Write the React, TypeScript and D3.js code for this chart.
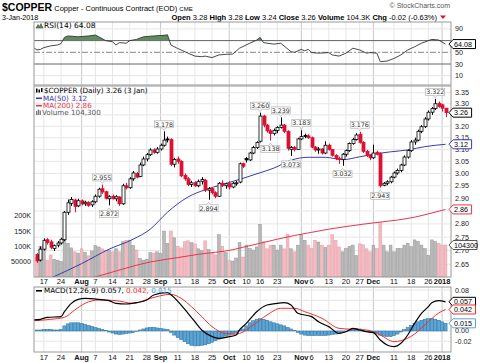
import * as d3 from "d3";
import * as React from "react";

const SANS = "'Liberation Sans', Arial, sans-serif";
const VER = "'DejaVu Sans', Verdana, sans-serif";
const RED = "#dd1133";
const BLUE = "#3a3ab0";
const PINK = "#e8344c";

// trading days, 13 Jul 2017 .. 3 Jan 2018
const days = [
  "07-13", "07-14", "07-17", "07-18", "07-19", "07-20", "07-21", "07-24", "07-25", "07-26", "07-27", "07-28", "07-31",
  "08-01", "08-02", "08-03", "08-04", "08-07", "08-08", "08-09", "08-10", "08-11", "08-14", "08-15", "08-16", "08-17", "08-18", "08-21", "08-22", "08-23", "08-24", "08-25", "08-28", "08-29", "08-30", "08-31",
  "09-01", "09-05", "09-06", "09-07", "09-08", "09-11", "09-12", "09-13", "09-14", "09-15", "09-18", "09-19", "09-20", "09-21", "09-22", "09-25", "09-26", "09-27", "09-28", "09-29",
  "10-02", "10-03", "10-04", "10-05", "10-06", "10-10", "10-11", "10-12", "10-13", "10-16", "10-17", "10-18", "10-19", "10-20", "10-23", "10-24", "10-25", "10-26", "10-27", "10-30", "10-31",
  "11-01", "11-02", "11-03", "11-06", "11-07", "11-08", "11-09", "11-10", "11-13", "11-14", "11-15", "11-16", "11-17", "11-20", "11-21", "11-22", "11-24", "11-27", "11-28", "11-29", "11-30",
  "12-01", "12-04", "12-05", "12-06", "12-07", "12-08", "12-11", "12-12", "12-13", "12-14", "12-15", "12-18", "12-19", "12-20", "12-21", "12-22", "12-26", "12-27", "12-28", "12-29",
  "01-02", "01-03",
];

const prevClose = 2.69;

// open, high, low, close
const candles: [number, number, number, number][] = [
  [2.685, 2.69, 2.655, 2.662], [2.665, 2.715, 2.66, 2.705], [2.705, 2.745, 2.7, 2.738], [2.74, 2.746, 2.722, 2.73],
  [2.732, 2.74, 2.705, 2.712], [2.708, 2.722, 2.698, 2.718], [2.72, 2.735, 2.712, 2.728], [2.728, 2.748, 2.722, 2.742],
  [2.74, 2.85, 2.735, 2.845], [2.845, 2.895, 2.835, 2.882], [2.88, 2.905, 2.87, 2.895], [2.893, 2.898, 2.845, 2.868],
  [2.87, 2.898, 2.865, 2.89], [2.89, 2.895, 2.872, 2.878], [2.878, 2.89, 2.87, 2.884], [2.884, 2.888, 2.866, 2.872],
  [2.874, 2.892, 2.866, 2.886], [2.886, 2.915, 2.88, 2.908], [2.908, 2.942, 2.902, 2.936], [2.938, 2.955, 2.918, 2.925],
  [2.926, 2.93, 2.895, 2.9], [2.898, 2.912, 2.872, 2.906], [2.908, 2.915, 2.895, 2.898], [2.898, 2.912, 2.888, 2.906],
  [2.905, 2.908, 2.87, 2.878], [2.878, 2.958, 2.874, 2.95], [2.95, 2.962, 2.935, 2.942], [2.942, 2.985, 2.938, 2.978],
  [2.978, 3.01, 2.97, 3.002], [3.0, 3.005, 2.98, 2.985], [2.988, 3.045, 2.985, 3.035], [3.035, 3.07, 3.03, 3.06],
  [3.06, 3.085, 3.05, 3.078], [3.078, 3.105, 3.072, 3.098], [3.098, 3.105, 3.082, 3.088], [3.088, 3.11, 3.082, 3.102],
  [3.102, 3.125, 3.095, 3.118], [3.118, 3.178, 3.112, 3.14], [3.145, 3.155, 3.13, 3.142], [3.142, 3.148, 3.03, 3.038],
  [3.038, 3.065, 3.025, 3.058], [3.06, 3.07, 3.04, 3.05], [3.05, 3.055, 2.985, 2.99], [2.992, 3.0, 2.97, 2.978],
  [2.978, 2.985, 2.948, 2.955], [2.955, 2.97, 2.945, 2.962], [2.962, 2.968, 2.945, 2.95], [2.95, 2.975, 2.944, 2.968],
  [2.968, 2.985, 2.955, 2.975], [2.972, 2.978, 2.925, 2.932], [2.932, 2.945, 2.894, 2.938], [2.938, 2.945, 2.915, 2.922],
  [2.922, 2.928, 2.9, 2.908], [2.908, 2.965, 2.905, 2.96], [2.96, 2.972, 2.945, 2.95], [2.95, 2.962, 2.938, 2.958],
  [2.958, 2.968, 2.935, 2.945], [2.945, 2.965, 2.94, 2.96], [2.96, 2.97, 2.95, 2.962], [2.965, 3.045, 2.96, 3.04],
  [3.04, 3.045, 3.022, 3.03], [3.062, 3.068, 3.045, 3.056], [3.056, 3.09, 3.052, 3.085], [3.085, 3.115, 3.08, 3.108],
  [3.108, 3.135, 3.102, 3.13], [3.135, 3.26, 3.13, 3.245], [3.245, 3.25, 3.195, 3.205], [3.205, 3.21, 3.172, 3.18],
  [3.18, 3.188, 3.138, 3.168], [3.168, 3.19, 3.16, 3.182], [3.182, 3.2, 3.17, 3.195], [3.195, 3.239, 3.19, 3.205],
  [3.205, 3.21, 3.17, 3.178], [3.178, 3.182, 3.095, 3.105], [3.1, 3.115, 3.073, 3.108], [3.108, 3.115, 3.092, 3.1],
  [3.1, 3.15, 3.098, 3.145], [3.145, 3.183, 3.14, 3.155], [3.16, 3.168, 3.148, 3.158], [3.158, 3.165, 3.145, 3.15],
  [3.15, 3.155, 3.105, 3.11], [3.11, 3.115, 3.09, 3.098], [3.098, 3.11, 3.082, 3.102], [3.102, 3.105, 3.078, 3.085],
  [3.085, 3.135, 3.08, 3.118], [3.118, 3.125, 3.095, 3.1], [3.1, 3.102, 3.07, 3.075], [3.075, 3.08, 3.055, 3.062],
  [3.062, 3.07, 3.04, 3.058], [3.058, 3.085, 3.032, 3.08], [3.08, 3.1, 3.07, 3.095], [3.095, 3.13, 3.09, 3.125],
  [3.125, 3.15, 3.12, 3.142], [3.142, 3.17, 3.138, 3.162], [3.165, 3.176, 3.125, 3.13], [3.13, 3.135, 3.085, 3.092],
  [3.092, 3.098, 3.068, 3.075], [3.075, 3.08, 3.055, 3.065], [3.065, 3.12, 3.06, 3.085], [3.088, 3.095, 3.075, 3.08],
  [3.082, 3.088, 2.943, 2.95], [2.952, 2.965, 2.948, 2.96], [2.96, 2.972, 2.952, 2.966], [2.966, 2.99, 2.96, 2.985],
  [2.985, 3.008, 2.98, 3.002], [3.002, 3.02, 2.995, 3.012], [3.012, 3.04, 3.005, 3.035], [3.035, 3.075, 3.03, 3.068],
  [3.068, 3.1, 3.062, 3.095], [3.095, 3.14, 3.09, 3.132], [3.132, 3.15, 3.12, 3.14], [3.14, 3.185, 3.135, 3.178],
  [3.178, 3.205, 3.17, 3.198], [3.198, 3.24, 3.192, 3.232], [3.232, 3.27, 3.225, 3.262], [3.262, 3.285, 3.25, 3.278],
  [3.278, 3.322, 3.272, 3.3], [3.302, 3.31, 3.282, 3.288], [3.295, 3.3, 3.265, 3.28], [3.28, 3.28, 3.24, 3.26],
];

// volume, thousands of contracts
const volumeK = [
  64, 100, 108, 55, 72, 58, 55, 50, 152, 110, 95, 82, 78,
  92, 80, 69, 85, 103, 98, 92, 86, 88, 82, 92, 82,
  115, 120, 120, 103, 88, 60, 55, 58, 80, 78, 82, 76,
  150, 110, 150, 128, 100, 95, 115, 118, 112, 108, 92, 86,
  118, 90, 78, 72, 138, 100, 80, 54, 52, 62, 112, 65,
  104, 93, 88, 98, 172, 115, 92, 104, 104, 88, 104, 92,
  140, 92, 82, 104, 138, 120, 104, 93, 120, 114, 104, 96,
  104, 138, 120, 98, 82, 93, 100, 104, 70, 108, 105, 92,
  82, 104, 93, 178, 104, 82, 104, 82, 93, 93, 104, 110, 99, 121, 116, 104, 93, 71, 121, 116, 110, 104, 104.3,
];

// [day index, value]
const ma50: [number, number][] = [
  [4, 2.6], [13, 2.652], [21, 2.705], [28, 2.742], [33, 2.78], [38, 2.845], [44, 2.905], [49, 2.934],
  [54, 2.955], [60, 2.98], [65, 3.003], [69, 3.022], [74, 3.055], [79, 3.067], [84, 3.067], [89, 3.057],
  [94, 3.069], [98, 3.08], [103, 3.09], [108, 3.098], [113, 3.112], [119, 3.122],
];
const ma200: [number, number][] = [
  [15, 2.598], [19, 2.611], [28, 2.643], [33, 2.658], [41, 2.674], [47, 2.686], [57, 2.703], [60, 2.712],
  [65, 2.727], [70, 2.742], [75, 2.756], [80, 2.768], [85, 2.78], [90, 2.79], [95, 2.799], [100, 2.807],
  [105, 2.815], [110, 2.826], [115, 2.842], [119, 2.856],
];
const rsi: [number, number][] = [
  [-1, 58], [0, 54], [1, 55], [2, 58], [4, 61], [6, 62.5], [7, 65], [8, 75.5], [9, 78], [12, 76.5], [15, 78],
  [17, 79.5], [18, 76.5], [20, 70], [22, 68], [23, 62.5], [24, 66.5], [26, 65.5], [27, 70], [29, 72], [31, 76.5],
  [34, 78], [37, 79], [38, 80], [39, 62.5], [41, 56.5], [42, 54], [44, 48.5], [46, 43.5], [48, 42.5], [49, 43.5],
  [51, 41], [53, 45.5], [55, 46.5], [57, 47], [59, 57], [62, 65.5], [64, 71], [65, 75.5], [66, 66.5], [69, 64],
  [71, 65.5], [74, 51], [75, 50], [77, 55], [78, 52.5], [79, 55], [80, 49.5], [82, 48.5], [85, 49.5], [86, 45.5],
  [88, 43.5], [90, 48.5], [92, 57], [94, 54], [96, 48.5], [97, 49.5], [99, 48.5], [100, 34], [102, 35], [104, 39.5],
  [106, 45.5], [108, 54], [110, 59.5], [112, 65.5], [114, 70], [115, 72], [117, 71], [119, 64.08],
];
const macd: [number, number][] = [
  [-1, 0.0215], [1, 0.0228], [3, 0.0267], [7, 0.028], [8, 0.0377], [10, 0.054], [12, 0.0618], [14, 0.0637],
  [18, 0.0618], [21, 0.0592], [23, 0.054], [26, 0.0527], [29, 0.0553], [32, 0.0605], [34, 0.0702], [38, 0.0748],
  [39, 0.071], [42, 0.0507], [44, 0.0345], [46, 0.0182], [48, 0.002], [51, -0.011], [53, -0.0143], [56, -0.011],
  [58, -0.0078], [59, 0.002], [61, 0.015], [64, 0.0377], [67, 0.0507], [70, 0.054], [72, 0.0553], [74, 0.0507],
  [76, 0.0345], [80, 0.028], [82, 0.0182], [85, 0.0085], [88, -0.0046], [90, -0.0013], [92, 0.0052], [94, 0.002],
  [96, -0.0013], [98, -0.0033], [100, -0.0176], [102, -0.0273], [104, -0.0306], [106, -0.024], [108, -0.0078],
  [110, 0.015], [112, 0.0345], [114, 0.0475], [115, 0.0553], [117, 0.0592], [119, 0.057],
];
const signal: [number, number][] = [
  [-1, 0.02], [4, 0.0228], [8, 0.0267], [11, 0.041], [14, 0.054], [18, 0.0605], [23, 0.0592], [28, 0.054],
  [33, 0.0637], [39, 0.0716], [42, 0.0637], [45, 0.0475], [48, 0.028], [51, 0.0085], [55, -0.005], [58, -0.006],
  [60, -0.002], [63, 0.0117], [67, 0.0312], [71, 0.0443], [75, 0.0443], [78, 0.0377], [83, 0.0248], [88, 0.0052],
  [92, 0.0033], [96, 0.002], [100, -0.0078], [104, -0.0208], [108, -0.014], [110, -0.006], [112, 0.006],
  [114, 0.018], [116, 0.03], [117, 0.035], [119, 0.042],
];
const hist = [
  0.002, 0.002, 0.003, 0.003, 0.003, 0.002, 0.002,
  0.003, 0.01, 0.014, 0.016, 0.016, 0.016, 0.015, 0.013, 0.011, 0.009, 0.007, 0.005, 0.003, 0.001,
  -0.002, -0.004, -0.006, -0.007, -0.006, -0.005, -0.004, -0.003, -0.001, 0.002, 0.004, 0.006, 0.007, 0.007, 0.006, 0.005, 0.004, 0.003,
  -0.003, -0.008, -0.013, -0.017, -0.021, -0.025, -0.028, -0.029, -0.029, -0.028, -0.027, -0.025, -0.022, -0.019, -0.016, -0.013, -0.01, -0.008, -0.006, -0.003, 0.001, 0.004,
  0.01, 0.016, 0.02, 0.023, 0.024, 0.023, 0.021, 0.018, 0.016, 0.014, 0.012, 0.01, 0.007, 0.004, 0.001, -0.003,
  -0.006, -0.008, -0.009, -0.009, -0.009, -0.009, -0.009, -0.009, -0.008, -0.007, -0.006, -0.005, -0.003, -0.001, 0.002,
  0.004, 0.005, 0.004, 0.002, 0.0, -0.002, -0.003, -0.004, -0.008, -0.01, -0.011, -0.011,
  -0.009, -0.006, -0.002, 0.003, 0.007, 0.011, 0.015, 0.018, 0.021, 0.023, 0.024, 0.024, 0.023, 0.021, 0.018, 0.015,
];

// labelled swing highs / lows: [day index, price, 1 = high / 0 = low]
const swings: [number, number, number][] = [
  [19, 2.955, 1], [21, 2.872, 0], [37, 3.178, 1], [50, 2.894, 0], [65, 3.26, 1], [68, 3.138, 0],
  [71, 3.239, 1], [74, 3.073, 0], [77, 3.183, 1], [89, 3.032, 0], [94, 3.176, 1], [100, 2.943, 0], [116, 3.322, 1],
];

const xTicks: [string, string, boolean][] = [
  ["07-17", "17", false], ["07-24", "24", false], ["08-01", "Aug", true], ["08-07", "7", false],
  ["08-14", "14", false], ["08-21", "21", false], ["08-28", "28", false], ["09-01", "Sep", true],
  ["09-11", "11", false], ["09-18", "18", false], ["09-25", "25", false], ["10-02", "Oct", true],
  ["10-10", "10", false], ["10-16", "16", false], ["10-23", "23", false], ["11-01", "Nov", true],
  ["11-06", "6", false], ["11-13", "13", false], ["11-20", "20", false], ["11-27", "27", false],
  ["12-01", "Dec", true], ["12-11", "11", false], ["12-18", "18", false], ["12-26", "26", false],
  ["01-02", "2018", true],
];
const priceTicks = [2.65, 2.7, 2.75, 2.8, 2.85, 2.9, 2.95, 3.0, 3.05, 3.1, 3.15, 3.2, 3.25, 3.3, 3.35];
const volTicks: [number, string][] = [[50, "50000"], [100, "100K"], [150, "150K"], [200, "200K"]];
const rsiTicks = [10, 30, 50, 70, 90];
const macdTicks = [-0.02, 0, 0.02, 0.04, 0.06, 0.08];

const L = 34, R = 451;
const RSI_T = 22, RSI_B = 85, MAIN_T = 86, MAIN_B = 277, MACD_T = 287, MACD_B = 352;

function Tag({ y, text, color, width }: { y: number; text: string; color: string; width?: number }) {
  const w = width || text.length * 3.9 + 3;
  const d = `M449,${y} L453,${y - 4.5} L${453 + w},${y - 4.5} L${453 + w},${y + 4.5} L453,${y + 4.5} Z`;
  return (
    <g>
      <path d={d} fill="#fff" stroke={color} strokeWidth={1} />
      <text x={454} y={y + 2.6} fontSize={7.2} fontFamily={SANS} fill="#000">
        {text}
      </text>
    </g>
  );
}

// hide a right-axis label that a value tag would cover
const hidden = (pos: number, tags: number[]) => tags.some((t) => Math.abs(t - pos) < 4.2);

export default function App() {
  const x = d3.scaleLinear().domain([-0.87, 120.6]).range([L, R]);
  const y = d3.scaleLog().domain([2.604, 3.381]).range([MAIN_B, MAIN_T]);
  const yv = d3.scaleLinear().domain([0, 200]).range([MAIN_B, 215.7]);
  const yr = d3.scaleLinear().domain([-5.9, 101.8]).range([RSI_B, RSI_T]);
  const ym = d3.scaleLinear().domain([-0.041, 0.0859]).range([MACD_B, MACD_T]);

  const idx = (d: string) => days.indexOf(d);
  const priceLine = d3.line<[number, number]>().x((d) => x(d[0])).y((d) => y(d[1])).curve(d3.curveMonotoneX);
  const rsiLine = d3.line<[number, number]>().x((d) => x(d[0])).y((d) => yr(d[1]));
  const rsiArea = d3.area<[number, number]>().x((d) => x(d[0])).y0(yr(70)).y1((d) => yr(d[1]));
  const macdLine = d3.line<[number, number]>().x((d) => x(d[0])).y((d) => ym(d[1])).curve(d3.curveMonotoneX);

  const up = (i: number) => candles[i][3] >= (i === 0 ? prevClose : candles[i - 1][3]);

  const rsiTags = [yr(64.08)];
  const mainTags = [y(3.26), y(3.122), y(2.856), yv(104.3)];
  const macdTags = [ym(0.057), ym(0.042), ym(0.015)];

  const vGrid = (y1: number, y2: number, k: string) =>
    xTicks.map(([d, , bold]) => (
      <line key={k + d} x1={x(idx(d))} x2={x(idx(d))} y1={y1} y2={y2} stroke={bold ? "#c8c8c8" : "#e6e6e6"} strokeWidth={1} />
    ));

  const xAxis = (ty: number) =>
    xTicks.map(([d, lab, bold]) => (
      <text key={d + ty} x={x(idx(d))} y={ty} textAnchor="middle" fontSize={7.5} fontFamily={SANS}
        fontWeight={bold ? "bold" : "normal"} fill="#111">
        {lab}
      </text>
    ));

  return (
    <svg width={480} height={363} style={{ position: "absolute", left: 0, top: 0, background: "#fff" }}>
      <defs>
        <clipPath id="cMain"><rect x={L} y={MAIN_T} width={R - L} height={MAIN_B - MAIN_T} /></clipPath>
        <clipPath id="cRsi"><rect x={L} y={RSI_T} width={R - L} height={RSI_B - RSI_T} /></clipPath>
        <clipPath id="cRsiHi"><rect x={L} y={RSI_T} width={R - L} height={yr(70) - RSI_T} /></clipPath>
        <clipPath id="cMacd"><rect x={L} y={MACD_T} width={R - L} height={MACD_B - MACD_T} /></clipPath>
      </defs>

      {/* header */}
      <text x={2} y={11} fontFamily={SANS} fill="#000">
        <tspan fontSize={10.5} fontWeight="bold">$COPPER</tspan>
        <tspan fontSize={7.5}>{" Copper - Continuous Contract (EOD) "}</tspan>
        <tspan fontSize={6}>CME</tspan>
      </text>
      <text x={450} y={7.5} textAnchor="end" fontSize={7} fontFamily={SANS} fill="#555">© StockCharts.com</text>
      <text x={2} y={19.5} fontSize={7.2} fontFamily={SANS} fill="#000">3-Jan-2018</text>
      <text x={437} y={19.5} textAnchor="end" fontSize={7.5} fontFamily={SANS} fill="#000">
        <tspan fontWeight="bold">Open</tspan>{" 3.28 "}
        <tspan fontWeight="bold">High</tspan>{" 3.28 "}
        <tspan fontWeight="bold">Low</tspan>{" 3.24 "}
        <tspan fontWeight="bold">Close</tspan>{" 3.26 "}
        <tspan fontWeight="bold">Volume</tspan>{" 104.3K "}
        <tspan fontWeight="bold">Chg</tspan>{" -0.02 (-0.63%)"}
      </text>
      <path d="M440,15.5 L446,15.5 L443,19 Z" fill={RED} />

      {/* RSI panel */}
      <g>
        {vGrid(RSI_T, RSI_B, "r")}
        {[90, 10].map((t) => (
          <line key={t} x1={L} x2={R} y1={yr(t)} y2={yr(t)} stroke="#e6e6e6" />
        ))}
        <g clipPath="url(#cRsi)">
          <path d={rsiArea(rsi) || ""} fill="#5e8e5e" clipPath="url(#cRsiHi)" />
        </g>
        <line x1={L} x2={R} y1={yr(70)} y2={yr(70)} stroke="#666" />
        <line x1={L} x2={R} y1={yr(30)} y2={yr(30)} stroke="#666" />
        <line x1={L} x2={R} y1={yr(50)} y2={yr(50)} stroke="#888" strokeDasharray="6,2,2,2" />
        <g clipPath="url(#cRsi)">
          <path d={rsiLine(rsi) || ""} fill="none" stroke="#333" strokeWidth={0.9} />
        </g>
        <rect x={L} y={RSI_T} width={R - L} height={RSI_B - RSI_T} fill="none" stroke="#999" />
        {rsiTicks.filter((t) => !hidden(yr(t), rsiTags)).map((t) => (
          <text key={t} x={455} y={yr(t) + 2.5} fontSize={7.2} fontFamily={SANS} fill="#222">{t}</text>
        ))}
        <path d="M36,28 L38,24.5 L39.5,26.5 L41,23.5 L43,28 Z" fill="#5e8e5e" stroke="#333" strokeWidth={0.5} />
        <text x={44} y={27.8} fontSize={7.5} fontFamily={VER} fill="#000">RSI(14) 64.08</text>
        <Tag y={yr(64.08)} text="64.08" color="#000" />
      </g>

      {/* price + volume panel */}
      <g>
        {vGrid(MAIN_T, MAIN_B, "m")}
        {priceTicks.map((t) => (
          <line key={t} x1={L} x2={R} y1={y(t)} y2={y(t)} stroke="#e6e6e6" />
        ))}
        <g clipPath="url(#cMain)">
          {volumeK.map((v, i) => (
            <rect key={i} x={x(i) - 1.4} width={2.8} y={yv(v)} height={MAIN_B - yv(v)}
              fill={up(i) ? "#b9b9b9" : "#f3bcc2"} stroke={up(i) ? "#969696" : "#e39aa4"} strokeWidth={0.5} />
          ))}
          <path d={priceLine(ma200) || ""} fill="none" stroke={PINK} strokeWidth={1} />
          <path d={priceLine(ma50) || ""} fill="none" stroke={BLUE} strokeWidth={1} />
          {candles.map(([o, h, l, c], i) => {
            const col = up(i) ? "#000" : RED;
            const hollow = c > o;
            const top = y(Math.max(o, c));
            const bh = Math.max(1, Math.abs(y(o) - y(c)));
            const cx = Math.round(x(i)) + 0.5;
            return (
              <g key={i}>
                <line x1={cx} x2={cx} y1={y(h)} y2={y(l)} stroke={col} strokeWidth={1} />
                <rect x={cx - 1.5} width={3} y={top} height={bh}
                  fill={hollow ? "#fff" : col} stroke={col} strokeWidth={0.8} />
              </g>
            );
          })}
        </g>
        {swings.map(([i, v, hi]) => {
          const cx = x(i);
          const cy = hi ? y(v) - 7 : y(v) + 8.5;
          const tip = hi ? cy + 6 : cy - 6;
          const base = hi ? cy + 3.5 : cy - 3.5;
          return (
            <g key={i}>
              <rect x={cx - 9.5} y={cy - 3.5} width={19} height={7} fill="#fafafa" stroke="#aaa" strokeWidth={0.6} />
              <path d={`M${cx - 2},${base} L${cx},${tip} L${cx + 2},${base}`} fill="#fafafa" stroke="#aaa" strokeWidth={0.6} />
              <text x={cx} y={cy + 2.3} textAnchor="middle" fontSize={6.3} fontFamily={VER} fill="#333">
                {v.toFixed(3)}
              </text>
            </g>
          );
        })}
        <rect x={L} y={MAIN_T} width={R - L} height={MAIN_B - MAIN_T} fill="none" stroke="#999" />
        {priceTicks.filter((t) => !hidden(y(t), mainTags)).map((t) => (
          <text key={t} x={455} y={y(t) + 2.5} fontSize={7.2} fontFamily={SANS} fill="#222">{t.toFixed(2)}</text>
        ))}
        {volTicks.map(([v, lab]) => (
          <text key={lab} x={31} y={yv(v) + 2.5} textAnchor="end" fontSize={7.2} fontFamily={SANS} fill="#222">{lab}</text>
        ))}
        {/* legend */}
        <g fontFamily={VER} fontSize={7.2}>
          <rect x={36} y={88.5} width={1.5} height={4} fill="#000" />
          <rect x={38.5} y={89.5} width={1.5} height={3} fill="#000" />
          <rect x={41} y={88} width={1.5} height={4} fill="#000" />
          <text x={44} y={93.2} fill="#000">$COPPER (Daily) 3.26 (3 Jan)</text>
          <line x1={36} x2={42} y1={98.3} y2={98.3} stroke={BLUE} strokeWidth={1.6} />
          <text x={43} y={100.8} fill={BLUE}>MA(50) 3.12</text>
          <line x1={36} x2={42} y1={105.7} y2={105.7} stroke={PINK} strokeWidth={1.6} />
          <text x={43} y={108.2} fill={PINK}>MA(200) 2.86</text>
          <rect x={36} y={111} width={1.3} height={4} fill="#777" />
          <rect x={37.8} y={109.5} width={1.3} height={5.5} fill="#777" />
          <rect x={39.6} y={110.5} width={1.3} height={4.5} fill="#777" />
          <text x={42} y={115.2} fill="#555">Volume 104,300</text>
        </g>
        <Tag y={y(3.26)} text="3.26" color="#000" />
        <Tag y={y(3.122)} text="3.12" color={BLUE} />
        <Tag y={y(2.856)} text="2.86" color={PINK} />
        <Tag y={yv(104.3)} text="104300" color="#555" width={24} />
      </g>

      {xAxis(284)}

      {/* MACD panel */}
      <g>
        {vGrid(MACD_T, MACD_B, "c")}
        {macdTicks.map((t) => (
          <line key={t} x1={L} x2={R} y1={ym(t)} y2={ym(t)} stroke="#e6e6e6" />
        ))}
        <g clipPath="url(#cMacd)">
          {hist.map((h, i) => (
            <rect key={i} x={x(i) - 1.6} width={3.2} y={Math.min(ym(h), ym(0))} height={Math.max(0.5, Math.abs(ym(h) - ym(0)))}
              fill="#5aa5d6" stroke="#2a6f9e" strokeWidth={0.5} />
          ))}
          <path d={macdLine(signal) || ""} fill="none" stroke="#f03030" strokeWidth={1} />
          <path d={macdLine(macd) || ""} fill="none" stroke="#000" strokeWidth={1.2} />
        </g>
        <rect x={L} y={MACD_T} width={R - L} height={MACD_B - MACD_T} fill="none" stroke="#999" />
        {macdTicks.filter((t) => !hidden(ym(t), macdTags)).map((t) => (
          <text key={t} x={455} y={ym(t) + 2.5} fontSize={7.2} fontFamily={SANS} fill="#222">{t.toFixed(2)}</text>
        ))}
        <line x1={36} x2={42} y1={290.8} y2={290.8} stroke="#000" strokeWidth={1.6} />
        <text x={44} y={293.3} fontSize={7.2} fontFamily={VER}>
          <tspan fill="#000">MACD(12,26,9) 0.057,</tspan>
          <tspan fill="#f03030">{" 0.042,"}</tspan>
          <tspan fill="#3aa0e0">{" 0.015"}</tspan>
        </text>
        <Tag y={ym(0.057)} text="0.057" color="#000" />
        <Tag y={ym(0.042)} text="0.042" color="#f03030" />
        <Tag y={ym(0.015)} text="0.015" color="#5aa5d6" />
      </g>

      {xAxis(360)}
    </svg>
  );
}
